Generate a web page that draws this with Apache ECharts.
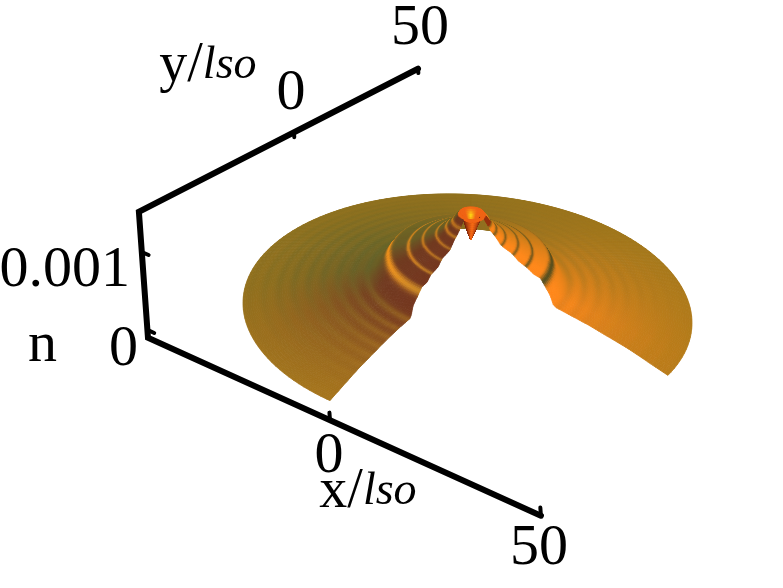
<!DOCTYPE html>
<html><head><meta charset="utf-8">
<style>html,body{margin:0;padding:0;background:#fff}#c{width:783px;height:588px}</style>
<script src="https://cdn.jsdelivr.net/npm/echarts@6/dist/echarts.min.js"></script>
</head><body><div id="c"></div>
<script>
// ---- axes
const xTicks = [0, 50];
const yTicks = [0, 50];
const nTicks = [0, 0.001];
const nTickLabels = ['0', '0.001'];
const axisRange = [-50, 50];
const nRange = [-0.0001, 0.00152];
// ---- surface height profile
const profileR = [0, 0.9, 1.8, 2.7, 5, 7.5, 11, 14, 17.6, 19.5, 21, 25, 30, 40, 50];
const profileN = [0.99, 1.12, 1.27, 1.35, 1.18, 1.05, 0.95, 0.845, 0.77, 0.61, 0.47, 0.40, 0.34, 0.19, 0];
// ---- ripple crests: radius, strength, width
const crestR = [4.2, 5.6, 7.7, 10.6, 13.8, 18.2, 22.5, 25.8, 29, 32.3, 35.5, 38.8, 42, 45.3, 48.5];
const crestA = [0.7, 0.75, 0.7, 0.7, 0.8, 1.0, 0.5, 0.45, 0.42, 0.38, 0.33, 0.28, 0.22, 0.16, 0.1];
const crestW = [0.28, 0.28, 0.3, 0.32, 0.36, 0.62, 0.95, 0.95, 0.95, 0.95, 0.95, 0.95, 0.95, 0.95, 0.95];
const slopeR = [0, 10, 15, 20, 25, 30, 35, 40, 45, 50];
const slopeS = [1, 1, 1, 1, 0.85, 0.62, 0.42, 0.26, 0.14, 0.05];
// ---- colours by azimuth
const azimuth = [0, 20, 45, 90, 135, 180, 210, 235, 270, 300, 360];
const rimColour = [[180,122,24],[178,122,24],[172,122,26],[158,118,28],[146,114,30],[146,114,30],[150,114,28],[160,116,28],[168,120,28],[175,122,25],[180,122,24]];
const slopeColour = [[255,134,24],[255,136,26],[225,130,26],[165,118,30],[135,108,34],[112,102,38],[106,92,38],[112,58,32],[116,54,30],[255,134,24],[255,136,26]];
const innerRingColour = [[85,78,30],[85,78,30],[85,78,30],[105,90,30],[190,120,30],[240,145,28],[240,145,28],[235,145,30],[200,135,38],[85,78,30],[85,78,30]];
const outerRingColour = [[212,124,30],[212,124,30],[165,116,30],[150,113,30],[128,104,34],[92,98,42],[92,98,42],[130,105,36],[178,126,32],[212,124,30],[212,124,30]];
// ---- the open wedge: azimuth limits per radius (stepped edge of the mesh)
const cutR = [3.4, 6, 8, 10, 12, 14, 16, 18, 20, 22, 25, 28, 50];
const cutLow = [11, 12, 10, 12, 10, 12, 10, 11, 12, 10, 11, 11, 11];
const cutHigh = [270, 269, 271, 269, 271, 269, 271, 270, 269, 271, 270, 270, 270];

const U = [177.4, 80.6], V = [137.6, -87.6], centre = [467.5, 313], nVec = [3300, -74000], front = [0.695, -0.719];
function lerp(xs, ys, x) {
  if (x <= xs[0]) return ys[0];
  for (let i = 1; i < xs.length; i++) if (x <= xs[i]) {
    const t = (x - xs[i-1]) / (xs[i] - xs[i-1]);
    return ys[i-1] + (ys[i] - ys[i-1]) * t;
  }
  return ys[ys.length-1];
}
function lerpCol(tab, a) {
  let i = 1; while (i < azimuth.length - 1 && a > azimuth[i]) i++;
  const t = (a - azimuth[i-1]) / (azimuth[i] - azimuth[i-1]);
  return [0,1,2].map(k => tab[i-1][k] + (tab[i][k] - tab[i-1][k]) * t);
}
function heightAt(r) { return lerp(profileR, profileN, r) * 0.001; }
function surfacePoint(r, deg) {
  const a = deg * Math.PI / 180, x = r * Math.cos(a) / 50, y = r * Math.sin(a) / 50, n = heightAt(r);
  return [centre[0] + x*U[0] + y*V[0] + n*nVec[0], centre[1] + x*U[1] + y*V[1] + n*nVec[1]];
}
// perspective view used for the axes
function project(x, y, n) {
  const w = 1 - 0.0013*x + 0.00236*y;
  return [(3.018*x + 3.63*y - 5309*n + 472) / w, (1.015*x - 1.192*y - 73640*n + 303.6) / w];
}
function ripple(r) {
  let s = 0;
  for (let i = 0; i < crestR.length; i++) {
    const d = (r - crestR[i]) / crestW[i];
    s += crestA[i] * Math.exp(-d*d);
  }
  return Math.min(1, s);
}
function css(c) { return 'rgb(' + c.map(v => Math.max(0, Math.min(255, Math.round(v)))).join(',') + ')'; }
function cellColour(r, deg) {
  const d = ((deg % 360) + 360) % 360;
  if (r < 3) {
    let diff = Math.abs(d - 314); if (diff > 180) diff = 360 - diff;
    if (r > 2 || diff > 100) {
      const g = Math.max(0, 1 - Math.abs(r - 1.7) / 0.9) * Math.max(0, (diff - 140) / 40);
      return css([240 + 15*g, 100 + 125*g, 22]);
    }
    const b = Math.max(0, 1 - diff / 70);
    return css([120 + 125*b, 36 + 70*b, 12 + 10*b]);
  }
  if (r < 4.2 && d < 40) return css([150, 50, 15]);
  const rim = lerpCol(rimColour, d), sl = lerpCol(slopeColour, d);
  const ringC = lerpCol(r <= 20 ? innerRingColour : outerRingColour, d);
  const s = lerp(slopeR, slopeS, r), q = ripple(r);
  return css([0,1,2].map(k => {
    const base = rim[k] + s*(sl[k]-rim[k]);
    return base + q*(ringC[k]-base);
  }));
}
// mesh
const rings = []; for (let r = 0; r < 50; r += (r < 22 ? 0.2 : 0.4)) rings.push(+r.toFixed(2));
rings.push(50);
const dTheta = 2;
const cells = [];
for (let i = 0; i < rings.length - 1; i++) {
  const r0 = rings[i], r1 = rings[i+1], rm = (r0 + r1) / 2;
  const lo = r1 <= 3 ? 0 : lerp(cutR, cutLow, rm), hi = r1 <= 3 ? 360 : lerp(cutR, cutHigh, rm);
  for (let a = lo; a < hi - 0.01; a += dTheta) {
    const b = Math.min(a + dTheta, hi), am = (a + b) / 2 * Math.PI / 180;
    cells.push({ value: [r0, r1, a, b], depth: rm * (Math.cos(am)*front[0] + Math.sin(am)*front[1]), col: cellColour(rm, (a + b) / 2) });
  }
}
cells.sort((p, q) => p.depth - q.depth);
const cellColours = cells.map(c => c.col);
const cellData = cells.map(c => c.value);

// axis polyline and ticks
const axisLine = [
  project(axisRange[0], axisRange[1], nRange[1]),
  project(axisRange[0], axisRange[0], nRange[1]),
  project(axisRange[0], axisRange[0], nRange[0]),
  project(axisRange[1], axisRange[0], nRange[0])
];
const tickSeg = [];
function seg(a, b) { tickSeg.push(a, b, ['-', '-']); }
xTicks.forEach(x => seg(project(x, -50, nRange[0]), project(x, -50, nRange[0] + 0.00009)));
yTicks.forEach(y => seg(project(-50, y, nRange[1]), project(-50, y, nRange[1] - 0.00007)));
nTicks.forEach(n => seg(project(-50, -50, n), project(-48, -50, n)));

function off(p, dx, dy) { return [p[0] + dx, p[1] + dy]; }
const labels = [
  { value: off(project(50, -50, nRange[0]), -2, 33), t: String(xTicks[1]) },
  { value: off(project(0, -50, nRange[0]), -1, 37), t: String(xTicks[0]) },
  { value: off(project(-50, 50, nRange[1]), 2, -40), t: String(yTicks[1]) },
  { value: off(project(-50, 0, nRange[1]), -3, -39), t: String(yTicks[0]) },
  { value: off(project(-50, -50, nTicks[1]), -77, 19), t: nTickLabels[1] },
  { value: off(project(-50, -50, nTicks[0]), -24, 20), t: nTickLabels[0] },
  { value: off(project(-50, -50, nTicks[0]), -105, 16), t: 'n' },
  { value: off(project(0, -50, nRange[0]), 38, 72), t: '{r|x/}{i|lso}' },
  { value: off(project(-50, 0, nRange[1]), -86, -66), t: '{r|y/}{i|lso}' }
];

const chart = echarts.init(document.getElementById('c'), null, { renderer: 'canvas' });
chart.setOption({
  animation: false,
  backgroundColor: '#fff',
  grid: { left: 0, right: 0, top: 0, bottom: 0 },
  xAxis: { type: 'value', min: 0, max: 783, show: false },
  yAxis: { type: 'value', min: 0, max: 588, inverse: true, show: false },
  series: [
    {
      type: 'custom', silent: true, clip: false, progressive: 0, animation: false,
      data: cellData,
      encode: { x: [], y: [] },
      renderItem(params, api) {
        const r0 = api.value(0), r1 = api.value(1), a = api.value(2), b = api.value(3);
        const pts = [surfacePoint(r0, a), surfacePoint(r1, a), surfacePoint(r1, b), surfacePoint(r0, b)].map(p => api.coord(p));
        const c = cellColours[params.dataIndex];
        return { type: 'polygon', shape: { points: pts }, style: { fill: c, stroke: c, lineWidth: 0.8 } };
      }
    },
    {
      type: 'line', data: axisLine, showSymbol: false, silent: true, clip: false,
      lineStyle: { color: '#000', width: 6, join: 'miter', cap: 'round' }
    },
    {
      type: 'line', data: tickSeg, showSymbol: false, silent: true, clip: false, connectNulls: false,
      lineStyle: { color: '#000', width: 4, cap: 'round' }
    },
    {
      type: 'scatter', data: labels, symbolSize: 0, silent: true, clip: false,
      itemStyle: { opacity: 1 },
      label: {
        show: true, position: 'inside', align: 'center', verticalAlign: 'middle', opacity: 1,
        formatter: p => p.data.t,
        fontFamily: 'Liberation Serif', fontSize: 58, color: '#000',
        rich: {
          r: { fontFamily: 'Liberation Serif', fontSize: 56, color: '#000' },
          i: { fontFamily: 'Liberation Serif', fontSize: 46, fontStyle: 'italic', color: '#000' }
        }
      }
    }
  ]
});
</script></body></html>
